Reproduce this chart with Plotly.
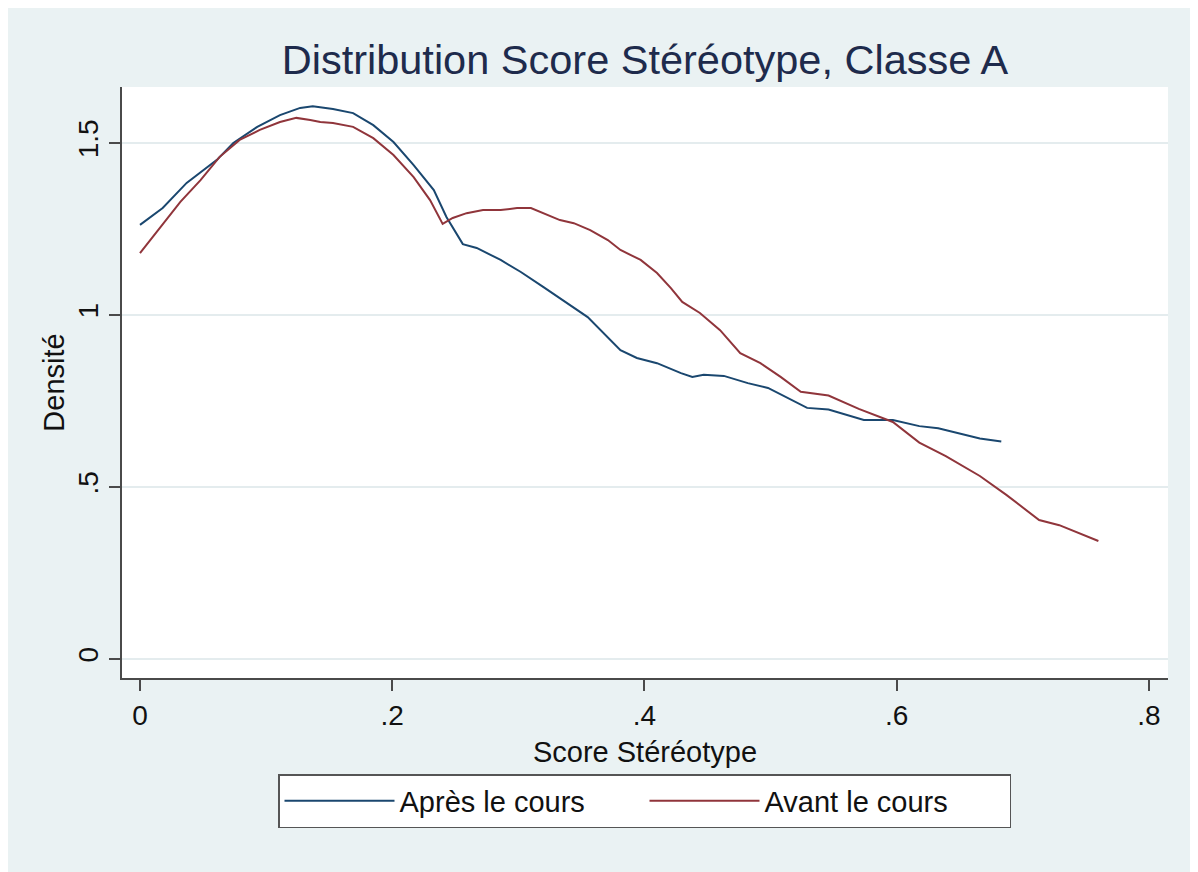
import plotly.graph_objects as go

# --- data (kernel density estimates) ---
apres_x = [0.000, 0.018, 0.037, 0.061, 0.074, 0.093, 0.111, 0.127, 0.137, 0.153,
           0.169, 0.185, 0.201, 0.217, 0.233, 0.243, 0.256, 0.267, 0.286, 0.302,
           0.320, 0.339, 0.355, 0.381, 0.394, 0.410, 0.429, 0.438, 0.447, 0.463,
           0.482, 0.498, 0.513, 0.529, 0.546, 0.561, 0.574, 0.597, 0.618, 0.633,
           0.666, 0.683]
apres_y = [1.262, 1.311, 1.384, 1.451, 1.500, 1.547, 1.581, 1.602, 1.607, 1.599,
           1.587, 1.552, 1.503, 1.436, 1.363, 1.285, 1.206, 1.195, 1.160, 1.125,
           1.081, 1.035, 0.994, 0.898, 0.875, 0.860, 0.831, 0.820, 0.826, 0.823,
           0.802, 0.788, 0.759, 0.730, 0.725, 0.709, 0.695, 0.695, 0.677, 0.671,
           0.641, 0.632]

avant_x = [0.000, 0.016, 0.032, 0.048, 0.063, 0.079, 0.095, 0.111, 0.124, 0.135,
           0.143, 0.153, 0.169, 0.185, 0.201, 0.217, 0.230, 0.240, 0.248, 0.259,
           0.272, 0.286, 0.299, 0.310, 0.323, 0.333, 0.344, 0.357, 0.371, 0.381,
           0.397, 0.410, 0.421, 0.430, 0.444, 0.460, 0.476, 0.492, 0.508, 0.524,
           0.546, 0.570, 0.597, 0.618, 0.639, 0.666, 0.687, 0.713, 0.729, 0.760]
avant_y = [1.180, 1.256, 1.329, 1.392, 1.459, 1.509, 1.538, 1.561, 1.573, 1.567,
           1.561, 1.558, 1.547, 1.514, 1.465, 1.401, 1.334, 1.265, 1.282, 1.296,
           1.305, 1.305, 1.311, 1.311, 1.291, 1.276, 1.267, 1.247, 1.218, 1.189,
           1.160, 1.122, 1.078, 1.038, 1.006, 0.956, 0.889, 0.860, 0.820, 0.777,
           0.766, 0.727, 0.689, 0.629, 0.590, 0.532, 0.477, 0.404, 0.389, 0.343]

x_tickvals = [0, 0.2, 0.4, 0.6, 0.8]
x_ticktext = ["0", ".2", ".4", ".6", ".8"]
y_tickvals = [0, 0.5, 1, 1.5]
y_ticktext = ["0", ".5", "1", "1.5"]

series_names = ["Après le cours", "Avant le cours"]
title_text = "Distribution Score Stéréotype, Classe A"
x_title = "Score Stéréotype"
y_title = "Densité"

FONT = "Liberation Sans, Arial, Helvetica, sans-serif"
BG = "#EAF2F3"
AXIS = "#4a4a4a"

# the page body adds an 8px offset, so the figure is 8px smaller than the window
W, H = 1190, 864

fig = go.Figure()
fig.add_trace(go.Scatter(x=apres_x, y=apres_y, mode="lines", name=series_names[0],
                         line=dict(color="#1A476F", width=2)))
fig.add_trace(go.Scatter(x=avant_x, y=avant_y, mode="lines", name=series_names[1],
                         line=dict(color="#90353B", width=2)))

fig.update_layout(
    width=W, height=H,
    margin=dict(l=114, r=30, t=79, b=194),
    paper_bgcolor=BG, plot_bgcolor="white",
    font=dict(family=FONT, size=28, color="#111111"),
    title=dict(text=title_text, x=0.5, xref="paper", xanchor="center",
               y=1 - 51 / H, yref="container", yanchor="middle",
               font=dict(size=41.5, color="#1E2B4C", family=FONT)),
    showlegend=True,
    legend=dict(orientation="h", x=(270 - 114) / 1046, xanchor="left",
                y=(670 - 766) / 591, yanchor="top",
                bgcolor="white", bordercolor="#555555", borderwidth=1.5,
                font=dict(size=29, color="#111111", family=FONT),
                itemwidth=110, entrywidth=240, entrywidthmode="pixels"),
)

fig.update_xaxes(range=[-0.01427, 0.8152], tickvals=x_tickvals, ticktext=x_ticktext,
                 showline=True, linecolor=AXIS, linewidth=2,
                 ticks="outside", ticklen=11, tickwidth=2, tickcolor=AXIS,
                 showgrid=False, zeroline=False,
                 tickfont=dict(size=28),
                 title=dict(text=x_title, font=dict(size=29), standoff=12))
fig.update_yaxes(range=[-0.0552, 1.6628], tickvals=y_tickvals, ticktext=y_ticktext,
                 showline=True, linecolor=AXIS, linewidth=2,
                 ticks="outside", ticklen=11, tickwidth=2, tickcolor=AXIS,
                 showgrid=True, gridcolor="#E4ECEE", gridwidth=1.5, zeroline=False,
                 tickangle=-90, tickfont=dict(size=28),
                 title=dict(text=y_title, font=dict(size=29), standoff=0))

fig.write_html("out.html")
